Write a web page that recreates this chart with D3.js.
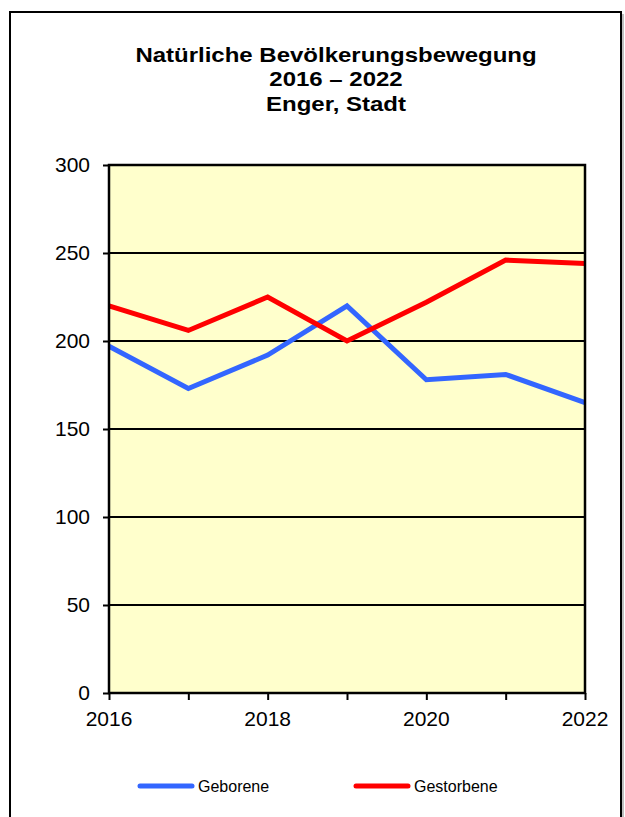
<!DOCTYPE html>
<html>
<head>
<meta charset="utf-8">
<script src="https://cdn.jsdelivr.net/npm/d3@7"></script>
<style>
body { margin: 0; background: #fff; }
svg { display: block; font-family: Arial, "Liberation Sans", sans-serif; }
</style>
</head>
<body>
<script>
// data
const years = [2016, 2017, 2018, 2019, 2020, 2021, 2022];
const geborene = [197, 173, 192, 220, 178, 181, 165];
const gestorbene = [220, 206, 225, 200, 222, 246, 244];
const yTicks = [0, 50, 100, 150, 200, 250, 300];
const xTickLabels = [2016, 2018, 2020, 2022];
const titleLines = ["Natürliche Bevölkerungsbewegung", "2016 – 2022", "Enger, Stadt"];

const width = 625, height = 817;
const svg = d3.select("body").append("svg")
    .attr("width", width)
    .attr("height", height);

// outer frame (bottom edge runs off the page)
svg.append("rect")
    .attr("x", 10).attr("y", 12)
    .attr("width", 611).attr("height", 830)
    .attr("fill", "#fff")
    .attr("stroke", "#000")
    .attr("stroke-width", 2);
svg.append("line")
    .attr("x1", 623).attr("x2", 623).attr("y1", 14).attr("y2", height)
    .attr("stroke", "#aaa").attr("stroke-width", 1.5);

// title (the original is a bit wider than plain Arial, so stretch it)
svg.append("g")
    .attr("transform", "translate(336,0) scale(1.2,1)")
    .selectAll("text")
    .data(titleLines)
    .enter().append("text")
    .attr("x", 0)
    .attr("y", (d, i) => 62 + i * 24.5)
    .attr("text-anchor", "middle")
    .attr("font-size", 20)
    .attr("font-weight", "bold")
    .text(d => d);

const x = d3.scaleLinear().domain([2016, 2022]).range([109, 585]);
const y = d3.scaleLinear().domain([0, 300]).range([693, 165]);

// plot background
svg.append("rect")
    .attr("x", x(2016)).attr("y", y(300))
    .attr("width", x(2022) - x(2016)).attr("height", y(0) - y(300))
    .attr("fill", "#FFFFCC");

// gridlines
svg.append("g").selectAll("line")
    .data(yTicks.filter(d => d > 0 && d < 300))
    .enter().append("line")
    .attr("x1", x(2016)).attr("x2", x(2022))
    .attr("y1", d => y(d)).attr("y2", d => y(d))
    .attr("stroke", "#000").attr("stroke-width", 2);

// series
const line = d3.line().x((d, i) => x(years[i])).y(d => y(d));
const series = [
    { name: "Geborene", values: geborene, color: "#3366FF" },
    { name: "Gestorbene", values: gestorbene, color: "#FF0000" }
];
svg.append("g").selectAll("path")
    .data(series)
    .enter().append("path")
    .attr("d", d => line(d.values))
    .attr("fill", "none")
    .attr("stroke", d => d.color)
    .attr("stroke-width", 5)
    .attr("stroke-linejoin", "miter");

// plot border
svg.append("rect")
    .attr("x", x(2016)).attr("y", y(300))
    .attr("width", x(2022) - x(2016)).attr("height", y(0) - y(300))
    .attr("fill", "none")
    .attr("stroke", "#000").attr("stroke-width", 2.5);

// y axis
const yAxis = svg.append("g")
    .attr("transform", `translate(${x(2016)},0)`)
    .call(d3.axisLeft(y).tickValues(yTicks).tickSize(6).tickPadding(13));
yAxis.select(".domain").remove();
yAxis.selectAll(".tick line").attr("stroke-width", 2);
yAxis.selectAll("text").attr("font-size", 21).attr("fill", "#000")
    .attr("font-family", "Arial, 'Liberation Sans', sans-serif");

// x axis
const xAxis = svg.append("g")
    .attr("transform", `translate(0,${y(0)})`)
    .call(d3.axisBottom(x).tickValues(years).tickSize(7).tickFormat(""));
xAxis.select(".domain").remove();
xAxis.selectAll(".tick line").attr("stroke-width", 2);
svg.append("g").selectAll("text")
    .data(xTickLabels)
    .enter().append("text")
    .attr("x", d => x(d))
    .attr("y", y(0) + 33)
    .attr("text-anchor", "middle")
    .attr("font-size", 21)
    .text(d => d);

// legend
const legend = svg.append("g").selectAll("g")
    .data(series)
    .enter().append("g")
    .attr("transform", (d, i) => `translate(${140 + i * 216},786)`);
legend.append("line")
    .attr("x1", 0).attr("x2", 52)
    .attr("stroke", d => d.color)
    .attr("stroke-width", 5)
    .attr("stroke-linecap", "round");
legend.append("text")
    .attr("x", 58).attr("y", 6)
    .attr("font-size", 16)
    .text(d => d.name);
</script>
</body>
</html>
